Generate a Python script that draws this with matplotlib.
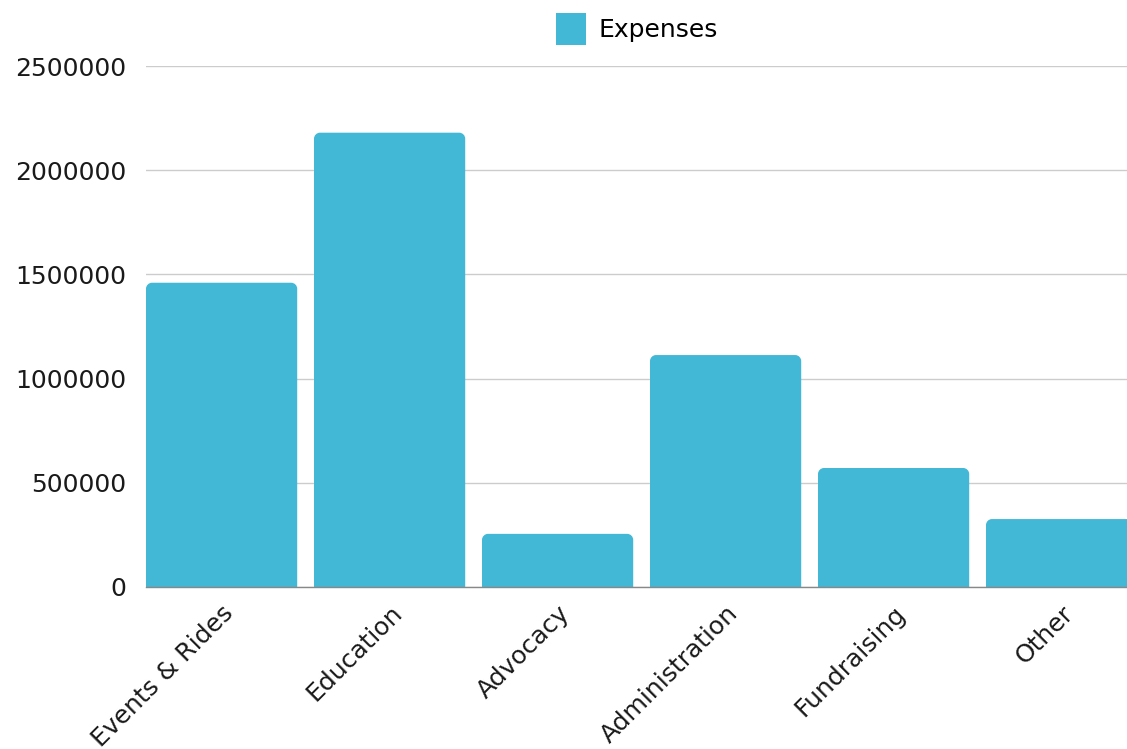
import matplotlib
matplotlib.use('Agg')
import matplotlib.pyplot as plt
from matplotlib.path import Path
from matplotlib.patches import PathPatch, Patch

# --- DATA ---
categories = ['Events & Rides', 'Education', 'Advocacy', 'Administration', 'Fundraising', 'Other']
expenses = [1460000, 2180000, 255000, 1113000, 571000, 326000]
yticks = [0, 500000, 1000000, 1500000, 2000000, 2500000]

BAR_COLOR = '#42b8d6'
FONT = 'DejaVu Sans'


def rounded_bar(x, w, h, rx, ry):
    # bar with only the top corners rounded
    x0, x1 = x - w / 2, x + w / 2
    k = 0.5523
    verts = [
        (x0, 0), (x0, h - ry),
        (x0, h - ry + k * ry), (x0 + rx - k * rx, h), (x0 + rx, h),
        (x1 - rx, h),
        (x1 - rx + k * rx, h), (x1, h - ry + k * ry), (x1, h - ry),
        (x1, 0), (x0, 0),
    ]
    codes = [Path.MOVETO, Path.LINETO,
             Path.CURVE4, Path.CURVE4, Path.CURVE4,
             Path.LINETO,
             Path.CURVE4, Path.CURVE4, Path.CURVE4,
             Path.LINETO, Path.CLOSEPOLY]
    return Path(verts, codes)


fig = plt.figure(figsize=(11.27, 7.49), dpi=100)
# plot area runs past the right edge of the picture (last bar is cut off)
ax = fig.add_axes([146 / 1127, 162 / 749, 1008 / 1127, 521 / 749])

ax.set_xlim(-0.45, len(categories) - 0.45)
ax.set_ylim(0, 2500000)

# corner radius ~6 px, converted to data units
rx = 6 / 168
ry = 6 * 2500000 / 521
for i, v in enumerate(expenses):
    ax.add_patch(PathPatch(rounded_bar(i, 0.9, v, rx, ry), facecolor=BAR_COLOR,
                           edgecolor='none', zorder=3))

ax.set_yticks(yticks)
ax.set_yticklabels([str(t) for t in yticks], fontsize=18, family=FONT, color='#1a1a1a')
ax.set_xticks(range(len(categories)))
ax.set_xticklabels(categories, rotation=45, ha='right', rotation_mode='anchor',
                   fontsize=18, family=FONT, color='#1a1a1a')
ax.tick_params(axis='both', length=0)
ax.tick_params(axis='y', pad=14)
ax.tick_params(axis='x', pad=10)

ax.grid(axis='y', color='#cccccc', linewidth=1, zorder=0)
for s in ['top', 'right', 'left']:
    ax.spines[s].set_visible(False)
ax.spines['bottom'].set_color('#888888')
ax.spines['bottom'].set_linewidth(1)
ax.spines['bottom'].set_zorder(4)

fig.legend(handles=[Patch(facecolor=BAR_COLOR, edgecolor='none', label='Expenses')],
           loc='upper center', bbox_to_anchor=(637 / 1127, 1.0), frameon=False,
           handlelength=1.2, handleheight=1.6, handletextpad=0.5,
           prop={'family': FONT, 'size': 18}, borderaxespad=0.1)

plt.savefig('out.png', dpi=100)
